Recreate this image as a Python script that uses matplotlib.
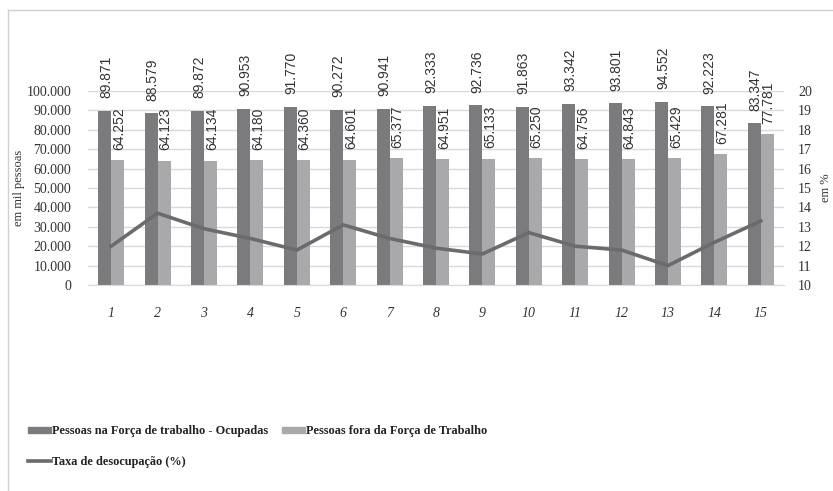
import matplotlib.pyplot as plt
from matplotlib.lines import Line2D
from matplotlib.patches import Patch

# Data
periods = list(range(1, 16))
ocupadas = [89871, 88579, 89872, 90953, 91770, 90272, 90941, 92333,
            92736, 91863, 93342, 93801, 94552, 92223, 83347]
fora_forca = [64252, 64123, 64134, 64180, 64360, 64601, 65377, 64951,
              65133, 65250, 64756, 64843, 65429, 67281, 77781]
taxa_desocupacao = [12.0, 13.7, 12.9, 12.4, 11.8, 13.1, 12.4, 11.9,
                    11.6, 12.7, 12.0, 11.8, 11.0, 12.2, 13.3]

LABEL_OCUP = "Pessoas na Força de trabalho - Ocupadas"
LABEL_FORA = "Pessoas fora da Força de Trabalho"
LABEL_TAXA = "Taxa de desocupação (%)"

DARK = "#7b7b7d"
LIGHT = "#a9a9ab"
LINE = "#6b6b6d"
GRID = "#d9d9d9"
SERIF = "Liberation Serif"
SANS = "Liberation Sans"

W, H = 833, 491


def fmt_br(v):
    # thousands separator as a dot, like the original
    return f"{v:,}".replace(",", ".")


fig = plt.figure(figsize=(W / 100, H / 100), dpi=100)

# plot area in pixel coordinates of the reference
left, right, top, bottom = 88, 784, 91, 285
ax = fig.add_axes([left / W, 1 - bottom / H, (right - left) / W, (bottom - top) / H])
ax2 = ax.twinx()
ax.set_zorder(ax2.get_zorder() - 1)
ax.patch.set_visible(False)

bw = 0.28
xs_dark = [p - bw / 2 for p in periods]
xs_light = [p + bw / 2 for p in periods]
ax.bar(xs_dark, ocupadas, width=bw, color=DARK, zorder=2)
ax.bar(xs_light, fora_forca, width=bw, color=LIGHT, zorder=2)

for x, v in zip(xs_dark, ocupadas):
    ax.annotate(fmt_br(v), (x, v), xytext=(1, 9), textcoords="offset points",
                rotation=90, ha="center", va="bottom", fontsize=10,
                family=SANS, color="#333333")
for x, v in zip(xs_light, fora_forca):
    ax.annotate(fmt_br(v), (x, v), xytext=(1, 7.5), textcoords="offset points",
                rotation=90, ha="center", va="bottom", fontsize=10,
                family=SANS, color="#333333")

ax.set_xlim(0.5, 15.5)
ax.set_ylim(0, 100000)
ax.set_yticks(range(0, 100001, 10000))
ax.set_yticklabels([fmt_br(v) for v in range(0, 100001, 10000)],
                   family=SERIF, fontsize=10, color="#333333")
ax.set_xticks(periods)
ax.set_xticklabels([str(p) for p in periods], family=SERIF, style="italic",
                   fontsize=10, color="#333333")
ax.tick_params(axis="x", length=0, pad=16)
ax.tick_params(axis="y", length=0, pad=12)
ax.grid(axis="y", color=GRID, linewidth=1, zorder=0)

ax2.plot(periods, taxa_desocupacao, color=LINE, linewidth=2.6, zorder=3,
         solid_joinstyle="miter")
ax2.set_ylim(10, 20)
ax2.set_yticks(range(10, 21))
ax2.set_yticklabels([str(v) for v in range(10, 21)], family=SERIF,
                    fontsize=10, color="#333333")
ax2.tick_params(axis="y", length=0, pad=10)

for a in (ax, ax2):
    for s in a.spines.values():
        s.set_visible(False)
ax.spines["bottom"].set_visible(True)
ax.spines["bottom"].set_color(GRID)

fig.text(19 / W, 1 - 188 / H, "em mil pessoas", rotation=90, ha="center",
         va="center", family=SERIF, fontsize=9, color="#333333")
fig.text(826 / W, 1 - 188 / H, "em %", rotation=90, ha="center",
         va="center", family=SERIF, fontsize=9, color="#333333")

# outer frame (left and top edges visible in the crop)
fig.add_artist(Line2D([8 / W, 8 / W], [0, 1 - 10 / H], color="#d0d0d0",
                      linewidth=1, transform=fig.transFigure))
fig.add_artist(Line2D([8 / W, 1], [1 - 10 / H, 1 - 10 / H], color="#d0d0d0",
                      linewidth=1, transform=fig.transFigure))

handles = [Patch(color=DARK), Line2D([], [], color=LINE, linewidth=2.6),
           Patch(color=LIGHT)]
labels = [LABEL_OCUP, LABEL_TAXA, LABEL_FORA]
fig.legend(handles, labels, ncol=2, loc="upper left",
           bbox_to_anchor=(17 / W, 1 - 414 / H), frameon=False,
           prop={"family": SERIF, "weight": "bold", "size": 8.8},
           handlelength=1.85, handleheight=0.4, handletextpad=0.1,
           columnspacing=1.15, labelspacing=1.55, labelcolor="#222222")

fig.savefig("out.png", dpi=100)
